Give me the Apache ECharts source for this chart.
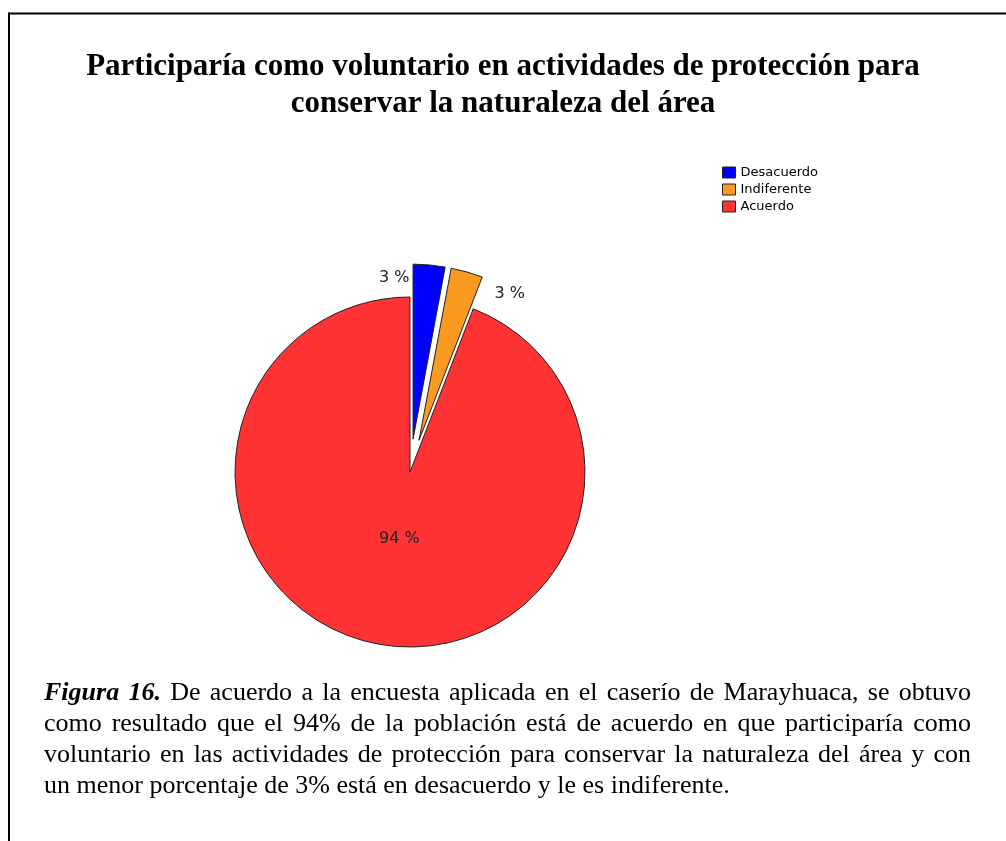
<!DOCTYPE html>
<html>
<head>
<meta charset="utf-8">
<script src="https://cdn.jsdelivr.net/npm/echarts@6/dist/echarts.min.js"></script>
<style>
html,body{margin:0;padding:0;background:#fff;}
#chart{position:absolute;left:0;top:0;width:1006px;height:841px;}
#caption{position:absolute;left:44px;top:676px;width:927px;font-family:"Liberation Serif","Times New Roman",serif;font-size:26px;line-height:31px;color:#000;}
#caption .l{text-align:justify;text-align-last:justify;white-space:nowrap;}
#caption .last{text-align:left;white-space:nowrap;}
</style>
</head>
<body>
<div id="chart"></div>
<div id="caption"></div>
<script>
const titleText = 'Participaría como voluntario en actividades de protección para\nconservar la naturaleza del área';
const categories = ['Desacuerdo', 'Indiferente', 'Acuerdo'];
const counts = [1, 1, 32];
const percentLabels = ['3 %', '3 %', '94 %'];
const colors = ['#0000ff', '#fa9a20', '#ff3333'];
const captionLead = 'Figura 16.';
const captionLines = [
  ' De acuerdo a la encuesta aplicada en el caserío de Marayhuaca, se obtuvo',
  'como resultado que el 94% de la población está de acuerdo en que participaría como',
  'voluntario en las actividades de protección para conservar la naturaleza del área y con',
  'un menor porcentaje de 3% está en desacuerdo y le es indiferente.'
];

// caption (justified paragraph)
const cap = document.getElementById('caption');
captionLines.forEach((t, i) => {
  const d = document.createElement('div');
  d.className = i === captionLines.length - 1 ? 'last' : 'l';
  if (i === 0) {
    const b = document.createElement('b');
    const it = document.createElement('i');
    it.textContent = captionLead;
    b.appendChild(it);
    d.appendChild(b);
  }
  d.appendChild(document.createTextNode(t));
  cap.appendChild(d);
});

const labelOffsets = [[-35, -73.5], [59, -60], [6, -22.5]];
const exploded = [true, true, false];

const chart = echarts.init(document.getElementById('chart'), null, {renderer: 'canvas'});
chart.setOption({
  backgroundColor: '#ffffff',
  animation: false,
  title: {
    text: titleText,
    left: 'center',
    top: 43,
    textStyle: {
      fontFamily: 'Liberation Serif',
      fontWeight: 'bold',
      fontSize: 31,
      lineHeight: 37,
      color: '#000'
    }
  },
  legend: {
    orient: 'vertical',
    left: 717,
    top: 161,
    itemWidth: 13,
    itemHeight: 11,
    itemGap: 4,
    itemTextGap: 3,
    icon: 'rect',
    selectedMode: false,
    data: categories,
    itemStyle: {borderColor: '#222', borderWidth: 1},
    textStyle: {fontFamily: 'DejaVu Sans', fontSize: 13, color: '#000'}
  },
  graphic: [
    {type: 'line', shape: {x1: 8, y1: 13.5, x2: 1006, y2: 13.5}, style: {stroke: '#000', lineWidth: 2}},
    {type: 'line', shape: {x1: 9, y1: 12.5, x2: 9, y2: 841}, style: {stroke: '#000', lineWidth: 2}}
  ],
  series: [{
    type: 'pie',
    center: [410, 472],
    radius: 175,
    startAngle: 90,
    clockwise: true,
    selectedMode: 'multiple',
    selectedOffset: 33,
    avoidLabelOverlap: false,
    emphasis: {disabled: true},
    labelLine: {show: false},
    itemStyle: {borderColor: '#222', borderWidth: 1},
    label: {
      show: true,
      position: 'inside',
      fontFamily: 'DejaVu Sans',
      fontSize: 16,
      color: '#222'
    },
    data: categories.map((c, i) => {
      const lab = {show: true, position: 'inside', formatter: percentLabels[i], offset: labelOffsets[i],
                   fontFamily: 'DejaVu Sans', fontSize: 16, color: '#222'};
      return {
        name: c,
        value: counts[i],
        selected: exploded[i],
        itemStyle: {color: colors[i]},
        label: lab,
        select: {label: lab, itemStyle: {color: colors[i], borderColor: '#222', borderWidth: 1}}
      };
    })
  }]
});
</script>
</body>
</html>
